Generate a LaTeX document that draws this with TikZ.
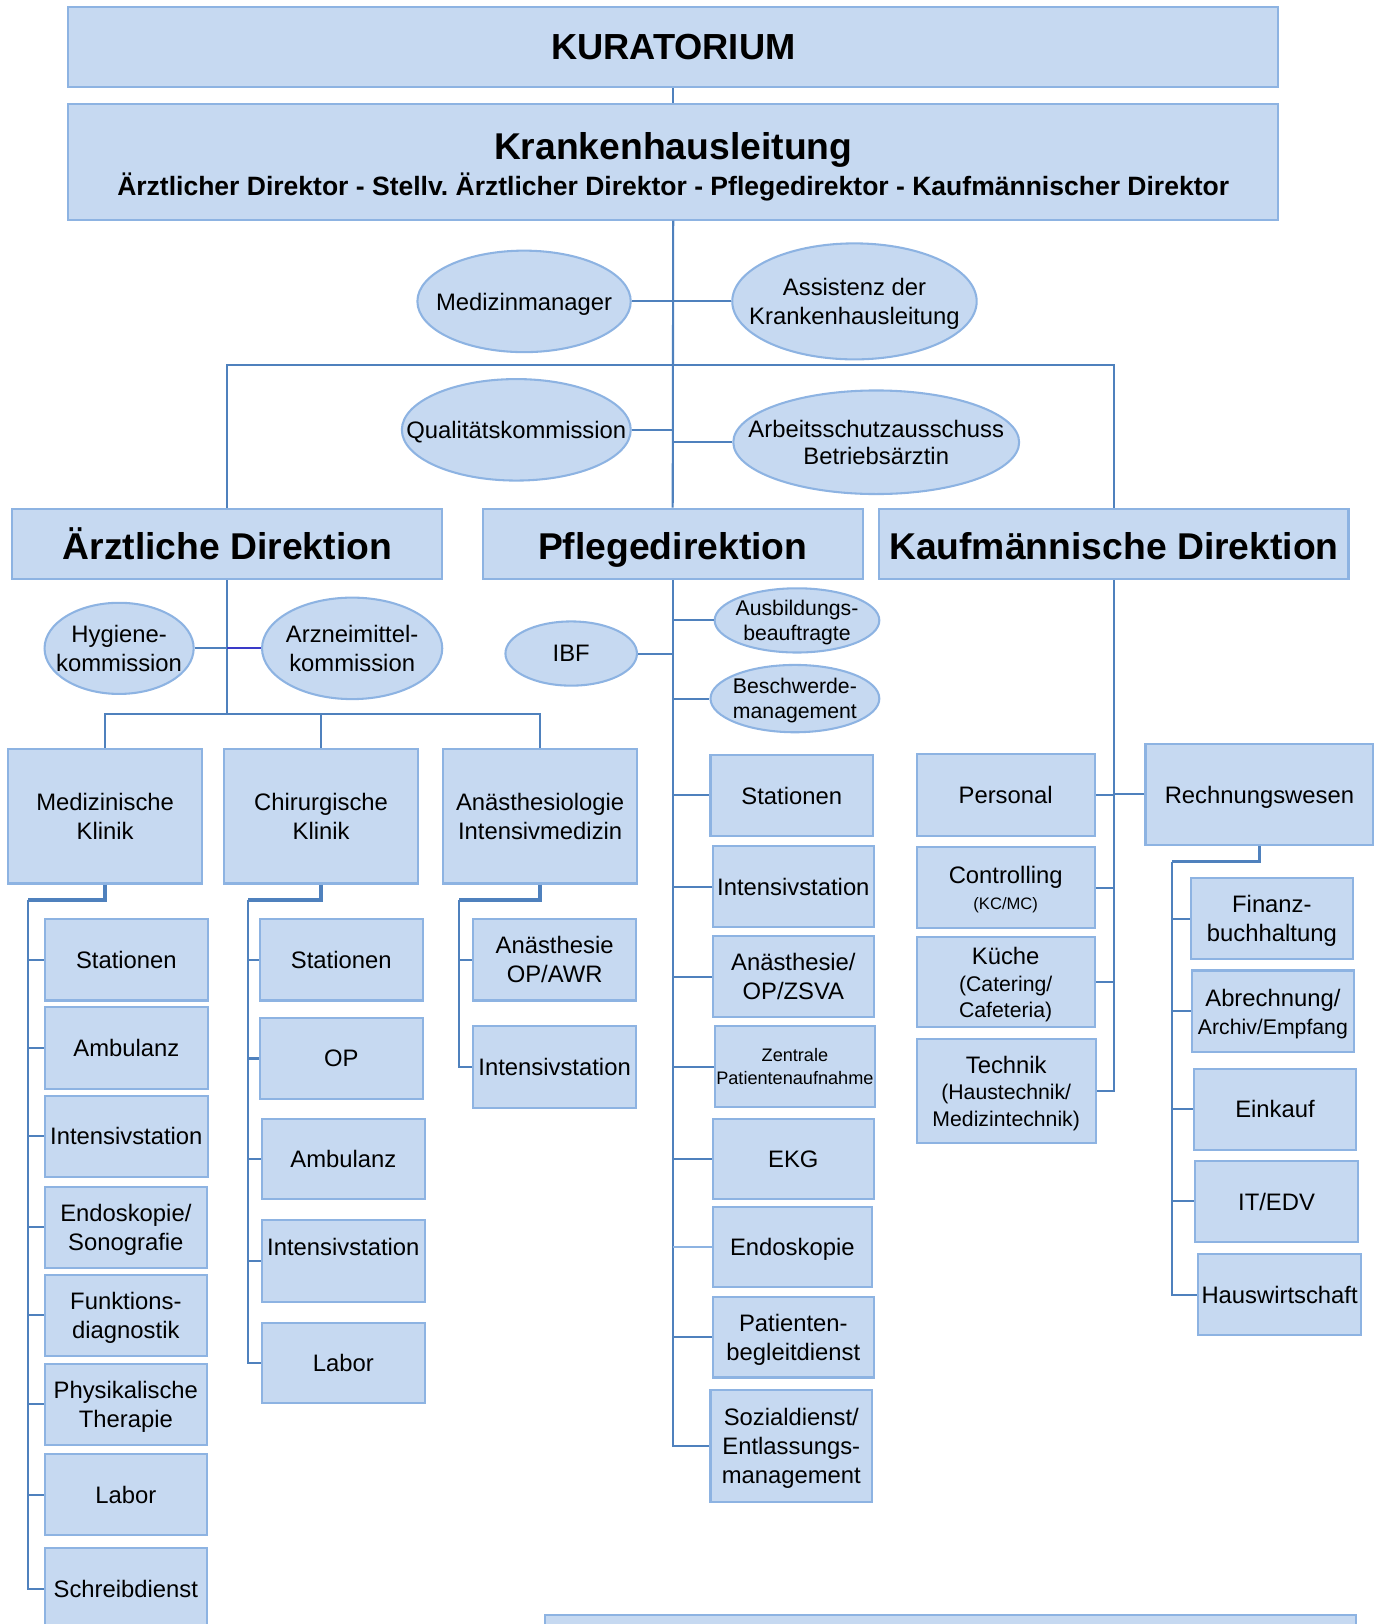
\documentclass[tikz,border=0pt]{standalone}
\usepackage{fontspec}
\setmainfont{Liberation Sans}
\usetikzlibrary{shapes.geometric}
\definecolor{boxfill}{HTML}{C6D9F1}
\definecolor{boxline}{HTML}{8DB3E2}
\definecolor{conn}{HTML}{4F81BD}
\definecolor{connb}{HTML}{3A3AC8}
\newcommand\fs[2]{\fontsize{#1}{#2}\selectfont}
\newcommand\bx[7][]{\node[box,#1,minimum width={(#5-#3)*0.5pt},minimum height={(#6-#4)*0.5pt}] (#2) at ({(#3+#5)/2},{(#4+#6)/2}) {#7};}
\newcommand\el[7][]{\node[ell,minimum width={(#5-#3)*0.5pt},minimum height={(#6-#4)*0.5pt}] (#2) at ({(#3+#5)/2},{(#4+#6)/2}) {};
  \node[lbl,#1] (#2-t) at (#2) {#7};}
\tikzset{
  box/.style={draw=boxline, fill=boxfill, line width=1pt, inner sep=0pt, align=center, text depth=0pt, font=\fs{11.5pt}{14pt}},
  ell/.style={ellipse, draw=boxline, fill=boxfill, line width=1pt, inner sep=0pt},
  lbl/.style={inner sep=0pt, align=center, text depth=0pt, font=\fs{11.5pt}{14pt}},
  ttl/.style={font=\fs{18pt}{20pt}\bfseries, text height=15pt, text depth=0pt},
  cn/.style={draw=conn, line width=1pt},
  elb/.style={line width=1.6pt},
}
\frenchspacing
\begin{document}
\begin{tikzpicture}[x=0.5pt,y=-0.5pt]
\useasboundingbox (0,0) rectangle (1330,1568);
% top level
\bx[font=\fs{17.5pt}{20pt}\bfseries]{kur}{66}{7}{1234}{84}{KURATORIUM}
\bx[font=\fs{12.8pt}{17pt}\bfseries\frenchspacing, text height=35pt, text depth=2.7pt]{kh}{66}{100}{1234}{212}{{\fs{18pt}{20pt}Krankenhausleitung}\\Ärztlicher Direktor - Stellv.\ Ärztlicher Direktor - Pflegedirektor - Kaufmännischer Direktor}
% staff ellipses
\el{mm}{403}{242}{609}{340}{Medizinmanager}
\el{as}{707}{235}{943}{347}{Assistenz der\\Krankenhausleitung}
\el[text height=8.4pt]{qk}{388}{366}{609}{464}{Qualitätskommission}
\el{ar}{708}{377}{984}{477}{Arbeitsschutzausschuss\\[-1pt]Betriebsärztin}
% directions
\bx[ttl]{ad}{12}{491}{427}{559}{Ärztliche Direktion}
\bx[ttl]{pd}{466}{491}{833}{559}{Pflegedirektion}
\bx[ttl]{kd}{849}{491}{1302}{559}{Kaufmännische Direktion}
% Aerztliche
\el{hy}{43}{582}{187}{670}{Hygiene-\\kommission}
\el{az}{253}{577}{427}{675}{Arzneimittel-\\kommission}
\bx{mk}{8}{723}{195}{853}{Medizinische\\Klinik}
\bx{ck}{216}{723}{404}{853}{Chirurgische\\Klinik}
\bx{ak}{428}{723}{615}{853}{Anästhesiologie\\Intensivmedizin}
\bx{m1}{43}{887}{201}{966}{Stationen}
\bx{m2}{43}{972}{201}{1051}{Ambulanz}
\bx{m3}{43}{1058}{201}{1136}{Intensivstation}
\bx[text depth=-1pt]{m4}{43}{1146}{200}{1224}{Endoskopie/\\Sonografie}
\bx{m5}{43}{1231}{200}{1309}{Funktions-\\diagnostik}
\bx{m6}{43}{1317}{200}{1395}{Physikalische\\Therapie}
\bx{m7}{43}{1404}{200}{1482}{Labor}
\bx{m8}{43}{1495}{200}{1573}{Schreibdienst}
\bx{c1}{251}{887}{408}{966}{Stationen}
\bx{c2}{251}{983}{408}{1061}{OP}
\bx{c3}{253}{1080}{410}{1158}{Ambulanz}
\bx[text depth=14pt]{c4}{253}{1178}{410}{1257}{Intensivstation}
\bx{c5}{253}{1277}{410}{1355}{Labor}
\bx{a1}{457}{887}{614}{966}{Anästhesie\\OP/AWR}
\bx{a2}{457}{991}{614}{1070}{Intensivstation}
% Pflege
\el{ibf}{488}{600}{615}{662}{IBF}
\el[font=\fs{10.25pt}{12pt}]{ab}{690}{568}{849}{630}{Ausbildungs-\\beauftragte}
\el[font=\fs{10.25pt}{12pt}]{bm}{686}{642}{849}{707}{Beschwerde-\\management}
\bx{p1}{686}{729}{843}{807}{Stationen}
\bx{p2}{688}{817}{844}{895}{Intensivstation}
\bx{p3}{688}{904}{844}{982}{Anästhesie/\\OP/ZSVA}
\bx[font=\fs{8.75pt}{11pt}]{p4}{690}{991}{845}{1069}{Zentrale\\Patientenaufnahme}
\bx{p5}{688}{1080}{844}{1158}{EKG}
\bx{p6}{688}{1165}{842}{1243}{Endoskopie}
\bx[text depth=-1pt]{p7}{688}{1252}{844}{1330}{Patienten-\\begleitdienst}
\bx{p8}{686}{1342}{842}{1450}{Sozialdienst/\\Entlassungs-\\management}
% Kaufmaennisch
\bx{k1}{885}{728}{1057}{807}{Personal}
\bx{rw}{1106}{718}{1326}{816}{Rechnungswesen}
\bx[font=\fs{11.5pt}{12.5pt}, text depth=-4pt]{k2}{885}{818}{1057}{896}{Controlling\\{\fs{8pt}{10pt}(KC/MC)}}
\bx[font=\fs{11.5pt}{12.8pt}, text depth=-3.5pt]{k3}{885}{905}{1057}{992}{Küche\\{\fs{10.25pt}{12pt}(Catering/}\\{\fs{10.25pt}{12pt}Cafeteria)}}
\bx[font=\fs{11.5pt}{12.8pt}, text depth=-3.5pt]{k4}{885}{1003}{1058}{1104}{Technik\\{\fs{10.25pt}{12pt}(Haustechnik/}\\{\fs{10.25pt}{12pt}Medizintechnik)}}
\bx[text depth=-1pt]{r1}{1150}{848}{1306}{926}{Finanz-\\buchhaltung}
\bx[font=\fs{11.5pt}{13.5pt}, text depth=-3pt]{r2}{1151}{937}{1307}{1016}{Abrechnung/\\{\fs{10.25pt}{12pt}Archiv/Empfang}}
\bx{r3}{1153}{1032}{1309}{1110}{Einkauf}
\bx{r4}{1154}{1121}{1311}{1199}{IT/EDV}
\bx{r5}{1157}{1211}{1314}{1289}{Hauswirtschaft}
% bottom box (cut off)
\bx{bt}{526}{1559}{1309}{1612}{}
% connectors
\coordinate (hbar) at (650,352);
\coordinate (adj) at (219.5,689);
\coordinate (mkj) at (27,869);
\coordinate (ckj) at (239,869);
\coordinate (akj) at (443,869);
\coordinate (rwj) at (1132,832);
\draw[cn] (kur.south) -- (kh.north);
\draw[cn] (kh.south) -- (pd.north);
\draw[cn] (mm.east) -- (mm.east -| pd.north);
\draw[cn] (as.west) -- (as.west -| pd.north);
\draw[cn] (qk.east) -- (qk.east -| pd.north);
\draw[cn] (ar.west) -- (ar.west -| pd.north);
\draw[cn] (ad.north) |- (hbar) -| (kd.north);
% Aerztliche
\draw[cn] (ad.south) -- (adj);
\draw[cn] (hy.east) -- (hy.east -| ad.south);
\draw[cn, draw=connb] (hy.east -| ad.south) -- (az.west);
\draw[cn] (mk.north) |- (adj) -| (ak.north);
\draw[cn] (ck.north) -- (ck.north |- adj);
\draw[cn, elb] (mk.south) |- (mkj);
\draw[cn] (mkj) |- (m8.west);
\foreach \n in {m1,m2,m3,m4,m5,m6,m7} \draw[cn] (\n.west -| mkj) -- (\n.west);
\draw[cn, elb] (ck.south) |- (ckj);
\draw[cn] (ckj) |- (c5.west);
\foreach \n in {c1,c2,c3,c4} \draw[cn] (\n.west -| ckj) -- (\n.west);
\draw[cn, elb] (ak.south) |- (akj);
\draw[cn] (akj) |- (a2.west);
\draw[cn] (a1.west -| akj) -- (a1.west);
% Pflege
\draw[cn] (pd.south) |- (p8.west);
\draw[cn] (ibf.east) -- (ibf.east -| pd.south);
\foreach \n in {ab,bm,p1,p2,p3,p4,p5,p7} \draw[cn] (\n.west -| pd.south) -- (\n.west);
\draw[cn, draw=boxline] (p6.west -| pd.south) -- (p6.west);
% Kaufmaennisch
\draw[cn] (kd.south) |- (k4.east);
\foreach \n in {k1,k2,k3} \draw[cn] (\n.east) -- (\n.east -| kd.south);
\draw[cn] (rw.west) -- (rw.west -| kd.south);
\draw[cn, elb] (rw.south) |- (rwj);
\draw[cn] (rwj) |- (r5.west);
\foreach \n in {r1,r2,r3,r4} \draw[cn] (\n.west -| rwj) -- (\n.west);
\end{tikzpicture}
\end{document}
